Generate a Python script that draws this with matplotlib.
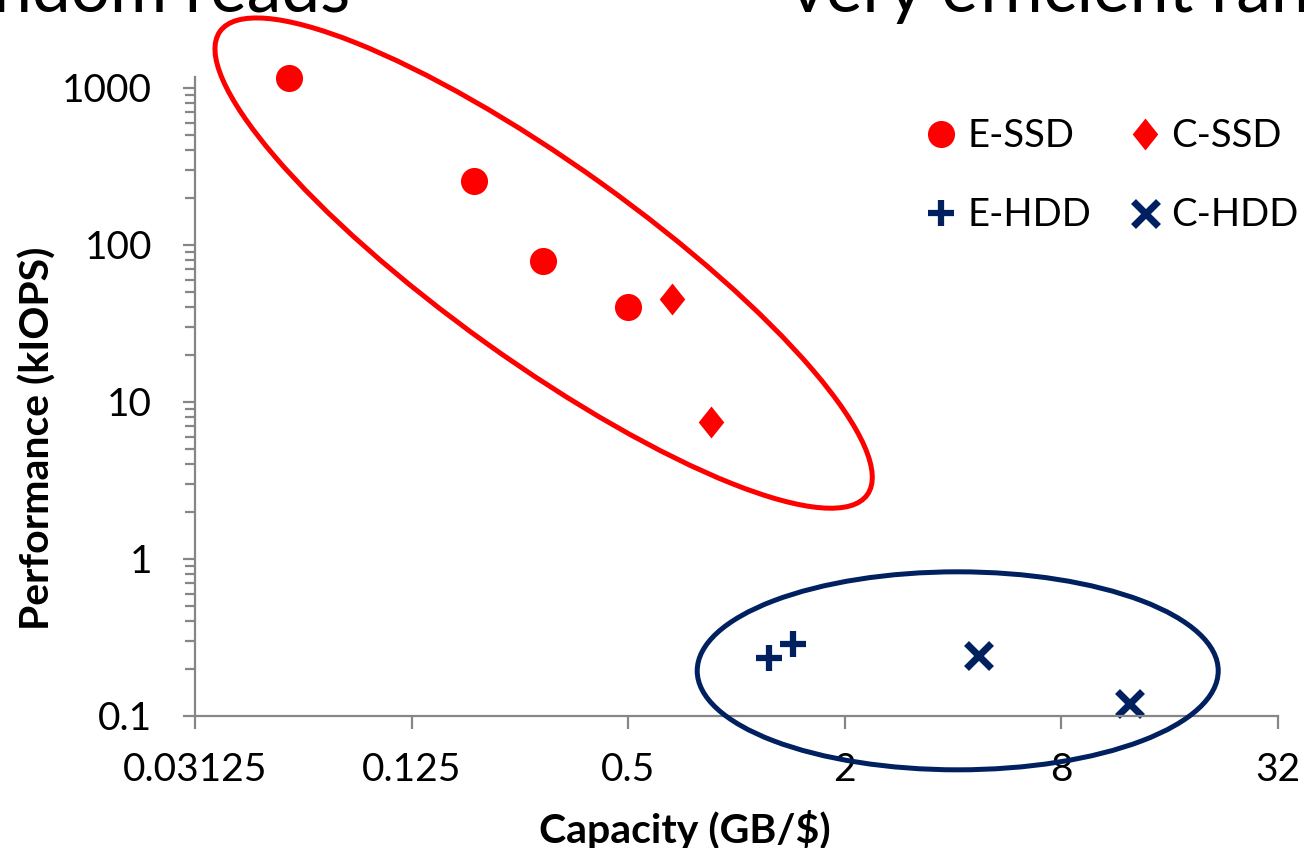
import matplotlib
matplotlib.use('Agg')
import matplotlib.pyplot as plt
from matplotlib.patches import Ellipse
from matplotlib.path import Path
from matplotlib.transforms import IdentityTransform
from matplotlib.ticker import FixedLocator, FixedFormatter, LogLocator, NullLocator, NullFormatter

plt.rcParams['font.family'] = ['Lato', 'DejaVu Sans']

# data
essd_cap = [0.057, 0.186, 0.29, 0.5]
essd_perf = [1160, 256, 79, 40.5]
cssd_cap = [0.66, 0.85]
cssd_perf = [45, 7.5]
ehdd_cap = [1.23, 1.44]
ehdd_perf = [0.234, 0.288]
chdd_cap = [4.7, 12.3]
chdd_perf = [0.245, 0.121]

x_ticks = [0.03125, 0.125, 0.5, 2, 8, 32]
x_labels = ['0.03125', '0.125', '0.5', '2', '8', '32']
y_ticks = [0.1, 1, 10, 100, 1000]
y_labels = ['0.1', '1', '10', '100', '1000']

red = '#ff0000'
navy = '#002060'
grey = '#868686'

fig = plt.figure(figsize=(13.04, 8.48), dpi=100)
W, H = 1304, 848
ax = fig.add_axes([195 / W, 1 - 716 / H, (1278 - 195) / W, (716 - 77) / H])

# Excel style diamond (a bit taller than wide)
diamond = Path([(0, 1), (0.8, 0), (0, -1), (-0.8, 0), (0, 1)],
               [Path.MOVETO, Path.LINETO, Path.LINETO, Path.LINETO, Path.CLOSEPOLY])

h1, = ax.plot(essd_cap, essd_perf, 'o', color=red, ms=19.5, mew=0, label='E-SSD', clip_on=False)
h2, = ax.plot(cssd_cap, cssd_perf, marker=diamond, ls='none', color=red, ms=23, mew=0, label='C-SSD')
h3, = ax.plot(ehdd_cap, ehdd_perf, '+', color=navy, ms=19, mew=4.5, label='E-HDD')
h4, = ax.plot(chdd_cap, chdd_perf, 'x', color=navy, ms=18, mew=5, label='C-HDD', clip_on=False)

ax.set_xscale('log', base=2)
ax.set_yscale('log')
ax.set_xlim(0.03125, 32)
ax.set_ylim(0.1, 1175)

ax.xaxis.set_major_locator(FixedLocator(x_ticks))
ax.xaxis.set_major_formatter(FixedFormatter(x_labels))
ax.xaxis.set_minor_locator(NullLocator())
ax.yaxis.set_major_locator(FixedLocator(y_ticks))
ax.yaxis.set_major_formatter(FixedFormatter(y_labels))
ax.yaxis.set_minor_locator(LogLocator(base=10, subs=range(2, 10)))
ax.yaxis.set_minor_formatter(NullFormatter())

for s in ['top', 'right']:
    ax.spines[s].set_visible(False)
for s in ['left', 'bottom']:
    ax.spines[s].set_color(grey)
    ax.spines[s].set_linewidth(1.6)

ax.tick_params(axis='x', which='major', direction='out', length=9, width=1.6,
               color=grey, labelsize=28, pad=17)
ax.tick_params(axis='y', which='major', direction='out', length=9, width=1.6,
               color=grey, labelsize=28, pad=22)
ax.tick_params(axis='y', which='minor', direction='out', length=7, width=1.6, color=grey)

fig.text(38 / W, 1 - 438 / H, 'Performance (kIOPS)', rotation=90, fontsize=29.5,
         fontweight='bold', ha='center', va='center')
fig.text(685 / W, 1 - 830 / H, 'Capacity (GB/$)', fontsize=29.5,
         fontweight='bold', ha='center', va='center')

# slide titles cut off at the top edge
fig.text(350 / W, 1 - 12 / H, 'Random reads', fontsize=50, ha='right', va='baseline')
fig.text(790 / W, 1 - 12 / H, 'very efficient random', fontsize=50, ha='left', va='baseline')

ax.legend([h1, h3, h2, h4], ['E-SSD', 'E-HDD', 'C-SSD', 'C-HDD'], ncol=2,
          frameon=False, fontsize=27.5, loc='upper right',
          bbox_to_anchor=(1314 / W, 1 - 103 / H), bbox_transform=fig.transFigure,
          handlelength=0.8, handletextpad=0.3, columnspacing=1.0, labelspacing=1.12,
          borderaxespad=0)

# group outlines, drawn in pixel space around a data-space centre
fig.canvas.draw()
red_c = ax.transData.transform((0.291, 76.7))
navy_c = ax.transData.transform((4.12, 0.194))
fig.patches.append(Ellipse(red_c, 796, 197, angle=-35.6, fill=False, ec=red, lw=3.6,
                           transform=IdentityTransform(), figure=fig))
fig.patches.append(Ellipse(navy_c, 521, 198, angle=0, fill=False, ec=navy, lw=3.6,
                           transform=IdentityTransform(), figure=fig))

fig.savefig('out.png', dpi=100)
